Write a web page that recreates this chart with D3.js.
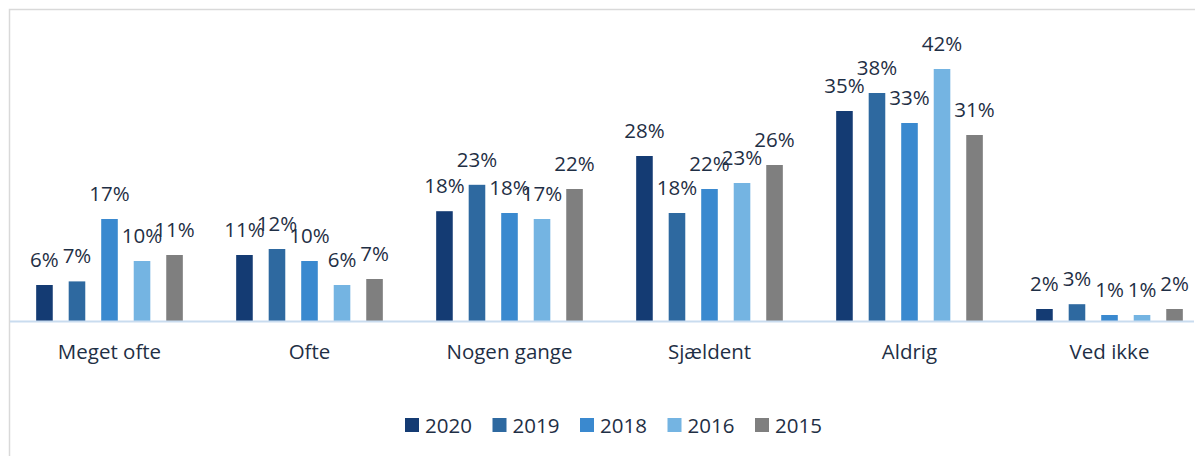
<!DOCTYPE html>
<html>
<head>
<meta charset="utf-8">
<script src="https://cdn.jsdelivr.net/npm/d3@7"></script>
<style>
  body { margin: 0; background: #fff; }
  svg text { font-family: "Open Sans", "Noto Sans", sans-serif; fill: #1f2f45; }
</style>
</head>
<body>
<div id="chart"></div>
<script>
// categories and series
const categories = ["Meget ofte", "Ofte", "Nogen gange", "Sjældent", "Aldrig", "Ved ikke"];
const years = ["2020", "2019", "2018", "2016", "2015"];
const v2020 = [0.060, 0.110, 0.183, 0.275, 0.350, 0.020];
const v2019 = [0.066, 0.120, 0.227, 0.180, 0.380, 0.028];
const v2018 = [0.170, 0.100, 0.180, 0.220, 0.330, 0.010];
const v2016 = [0.100, 0.060, 0.170, 0.230, 0.420, 0.010];
const v2015 = [0.110, 0.070, 0.220, 0.260, 0.310, 0.020];
const colors = ["#143b73", "#2e69a0", "#3a89cf", "#74b4e2", "#7f7f7f"];

const width = 1195, height = 456;
const series = [v2020, v2019, v2018, v2016, v2015];

const svg = d3.select("#chart").append("svg")
    .attr("width", width)
    .attr("height", height);

// chart frame
svg.append("rect")
    .attr("x", 9.5).attr("y", 9.5)
    .attr("width", 1220).attr("height", 470)
    .attr("fill", "none")
    .attr("stroke", "#d9d9d9")
    .attr("stroke-width", 1.5);

const x0 = d3.scaleBand()
    .domain(categories)
    .range([9.5, 1209.5]);

const x1 = d3.scaleBand()
    .domain(years)
    .range([0, x0.bandwidth()])
    .paddingInner(0.49)
    .paddingOuter(0.82);

const y = d3.scaleLinear()
    .domain([0, 0.5])
    .range([321, 21]);

const fmt = d3.format(".0%");

const groups = svg.selectAll("g.cat")
    .data(categories)
    .enter().append("g")
    .attr("class", "cat")
    .attr("transform", d => `translate(${x0(d)},0)`);

const bars = groups.selectAll("g.bar")
    .data((d, i) => years.map((yr, j) => ({ year: yr, value: series[j][i], color: colors[j] })))
    .enter().append("g")
    .attr("class", "bar");

bars.append("rect")
    .attr("x", d => x1(d.year))
    .attr("y", d => y(d.value))
    .attr("width", x1.bandwidth())
    .attr("height", d => y(0) - y(d.value))
    .attr("fill", d => d.color);

// baseline
svg.append("line")
    .attr("x1", 10).attr("x2", 1194)
    .attr("y1", y(0) + 0.5).attr("y2", y(0) + 0.5)
    .attr("stroke", "#c9dcef")
    .attr("stroke-width", 2);

bars.append("text")
    .attr("x", d => x1(d.year) + x1.bandwidth() / 2)
    .attr("y", d => y(d.value) - 18)
    .attr("text-anchor", "middle")
    .style("font-size", "20.5px")
    .text(d => fmt(d.value));

// category labels
groups.append("text")
    .attr("x", x0.bandwidth() / 2)
    .attr("y", 359)
    .attr("text-anchor", "middle")
    .style("font-size", "20.5px")
    .text(d => d);

// legend
const legend = svg.selectAll("g.legend")
    .data(years)
    .enter().append("g")
    .attr("class", "legend")
    .attr("transform", (d, i) => `translate(${405 + i * 87.5},418)`);

legend.append("rect")
    .attr("width", 14).attr("height", 14)
    .attr("fill", (d, i) => colors[i]);

legend.append("text")
    .attr("x", 20)
    .attr("y", 14.5)
    .style("font-size", "20.5px")
    .text(d => d);
</script>
</body>
</html>
